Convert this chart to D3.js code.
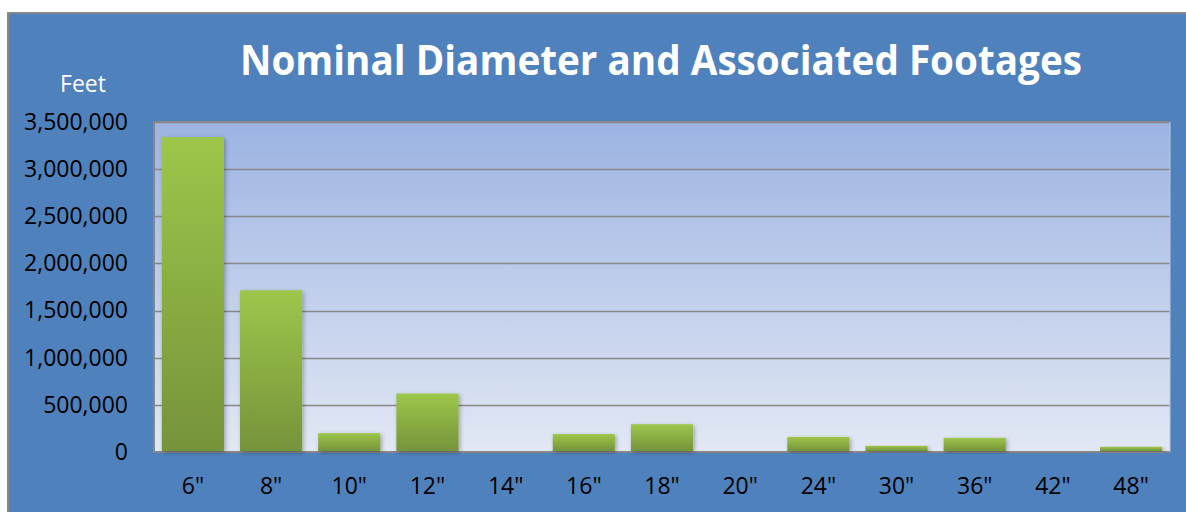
<!DOCTYPE html>
<html>
<head>
<meta charset="utf-8">
<script src="https://cdn.jsdelivr.net/npm/d3@7"></script>
<style>
  html, body { margin: 0; padding: 0; background: #ffffff; }
  svg { display: block; }
</style>
</head>
<body>
<svg id="chart" width="1186" height="512"></svg>
<script>
// Footage per nominal pipe diameter
const categories = ['6"', '8"', '10"', '12"', '14"', '16"', '18"', '20"', '24"', '30"', '36"', '42"', '48"'];
const footages = [3340000, 1715000, 200000, 620000, 0, 190000, 295000, 0, 160000, 65000, 150000, 0, 55000];
const yTicks = [0, 500000, 1000000, 1500000, 2000000, 2500000, 3000000, 3500000];
const titleText = "Nominal Diameter and Associated Footages";
const yAxisTitle = "Feet";

const svg = d3.select("#chart");
const W = 1186, H = 512;
const plot = { left: 154, top: 122, right: 1170, bottom: 452 };
const font = "'Open Sans', 'Noto Sans', sans-serif";

const defs = svg.append("defs");
const bgGrad = defs.append("linearGradient").attr("id", "plotBg")
  .attr("x1", 0).attr("y1", 0).attr("x2", 0).attr("y2", 1);
bgGrad.append("stop").attr("offset", "0%").attr("stop-color", "#9cb3e2");
bgGrad.append("stop").attr("offset", "100%").attr("stop-color", "#e2e8f4");

const barGrad = defs.append("linearGradient").attr("id", "barFill")
  .attr("x1", 0).attr("y1", 0).attr("x2", 0).attr("y2", 1);
barGrad.append("stop").attr("offset", "0%").attr("stop-color", "#9dc64a");
barGrad.append("stop").attr("offset", "100%").attr("stop-color", "#76933b");

const shadow = defs.append("filter").attr("id", "barShadow")
  .attr("x", "-10%").attr("y", "-10%").attr("width", "130%").attr("height", "130%");
shadow.append("feDropShadow").attr("dx", 1.5).attr("dy", 1.5)
  .attr("stdDeviation", 2).attr("flood-color", "#000").attr("flood-opacity", 0.3);

// Chart frame
svg.append("rect")
  .attr("x", 8).attr("y", 13).attr("width", W).attr("height", H)
  .attr("fill", "#4f81bd").attr("stroke", "#878787").attr("stroke-width", 2);

// Plot area
svg.append("rect")
  .attr("x", plot.left).attr("y", plot.top)
  .attr("width", plot.right - plot.left).attr("height", plot.bottom - plot.top)
  .attr("fill", "url(#plotBg)");

const x = d3.scaleBand().domain(categories).range([plot.left, plot.right]).paddingInner(0.205).paddingOuter(0.1);
const y = d3.scaleLinear().domain([0, 3500000]).range([plot.bottom, plot.top]);

// Gridlines
svg.append("g").selectAll("line").data(yTicks.slice(1)).join("line")
  .attr("x1", plot.left).attr("x2", plot.right)
  .attr("y1", d => Math.round(y(d)) + 0.5).attr("y2", d => Math.round(y(d)) + 0.5)
  .attr("stroke", "#878787").attr("stroke-width", 1.5);

// Plot border (top, left, bottom)
svg.append("path")
  .attr("d", `M${plot.right},${plot.top}H${plot.left}V${plot.bottom}H${plot.right}`)
  .attr("fill", "none").attr("stroke", "#878787").attr("stroke-width", 2);
svg.append("line")
  .attr("x1", plot.right).attr("x2", plot.right).attr("y1", plot.top).attr("y2", plot.bottom)
  .attr("stroke", "#bcc9e2").attr("stroke-width", 1);

// Bars
svg.append("g").selectAll("rect").data(categories).join("rect")
  .attr("x", d => x(d)).attr("width", x.bandwidth())
  .attr("y", (d, i) => y(footages[i]))
  .attr("height", (d, i) => plot.bottom - 1 - y(footages[i]))
  .attr("fill", "url(#barFill)")
  .attr("filter", "url(#barShadow)")
  .style("display", (d, i) => footages[i] > 0 ? null : "none");

// Y axis labels
const yAxis = d3.axisLeft(y).tickValues(yTicks).tickFormat(d3.format(",")).tickSize(0).tickPadding(26);
const gy = svg.append("g").attr("transform", `translate(${plot.left},0)`).call(yAxis);
gy.select(".domain").remove();
gy.selectAll("text").attr("font-family", font).attr("font-size", 23).attr("fill", "#000").attr("dy", "0.32em");

// X axis labels
const xAxis = d3.axisBottom(x).tickSize(0).tickPadding(26);
const gx = svg.append("g").attr("transform", `translate(0,${plot.bottom})`).call(xAxis);
gx.select(".domain").remove();
gx.selectAll("text").attr("font-family", font).attr("font-size", 23).attr("fill", "#000");

// Titles
svg.append("text")
  .attr("x", 661).attr("y", 75).attr("text-anchor", "middle")
  .attr("font-family", font).attr("font-weight", "bold").attr("font-size", 41)
  .attr("fill", "#ffffff")
  .attr("textLength", 842).attr("lengthAdjust", "spacingAndGlyphs")
  .text(titleText);

svg.append("text")
  .attr("x", 83).attr("y", 92).attr("text-anchor", "middle")
  .attr("font-family", font).attr("font-size", 23).attr("fill", "#ffffff")
  .text(yAxisTitle);
</script>
</body>
</html>
